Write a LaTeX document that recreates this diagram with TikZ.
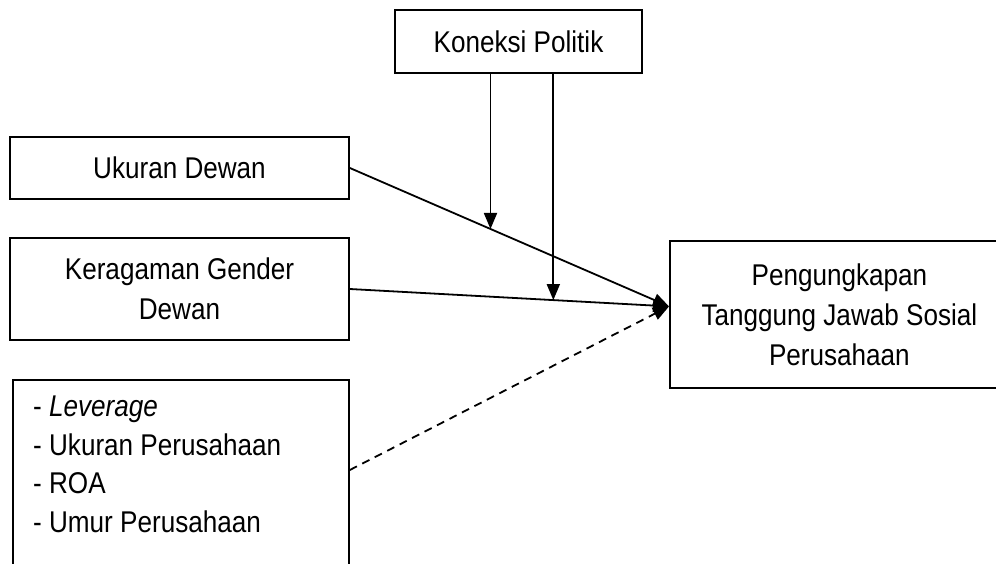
\documentclass[tikz,border=0pt]{standalone}
\usepackage{fontspec}
\setmainfont[FakeStretch=0.87]{Liberation Sans}
\usepackage{tikz}
\usetikzlibrary{arrows.meta, positioning, calc}

\tikzset{
  varbox/.style={draw, line width=1.8pt, minimum width=339pt, inner sep=0pt, align=center,
    font=\fontsize{30}{40}\selectfont},
  link/.style={line width=1.8pt},
}

\begin{document}
\begin{tikzpicture}[x=1pt, y=-1pt, >={Triangle[length=16pt, width=13pt]}]
  \useasboundingbox (0,0) rectangle (996,563);

  \node[varbox, minimum width=247pt, minimum height=63pt] (kp) at (518.5,41.5) {Koneksi Politik};
  \node[varbox, minimum height=62pt] (ud) at (179.5,168) {Ukuran Dewan};
  \node[varbox, minimum height=102pt] (kg) at (179.5,289) {Keragaman Gender\\Dewan};
  \node[varbox, minimum height=147pt, anchor=north west] (tjs) at (669,240)
    {Pengungkapan\\Tanggung Jawab Sosial\\Perusahaan};

  % kontrol (bottom edge is cut off)
  \node[draw, line width=1.8pt, minimum width=336pt, minimum height=230pt,
    anchor=north west] (ctrl) at (12,379) {};
  \node[anchor=north west, inner sep=0pt, align=left, font=\fontsize{30}{38.5}\selectfont]
    (lst) at ($(ctrl.north west)+(21,17)$)
    {- \textit{Leverage}\\- Ukuran Perusahaan\\- ROA\\- Umur Perusahaan};

  \coordinate (tgt) at ($(tjs.west)+(0,-8)$);
  \coordinate (cd) at ($(ctrl.north east)+(0,91)$);
  \coordinate (m1) at ($(ud.east)!0.4406!(tgt)$);
  \coordinate (m2) at ($(kg.east)!0.6375!(tgt)$);

  \draw[link, ->] (ud.east) -- (tgt);
  \draw[link, ->] (kg.east) -- (tgt);
  \draw[link, ->, dash pattern=on 8pt off 6pt] (cd) -- (tgt);
  \draw[link, ->] (kp.south -| m1) -- (m1);
  \draw[link, ->] (kp.south -| m2) -- (m2);
\end{tikzpicture}
\end{document}
